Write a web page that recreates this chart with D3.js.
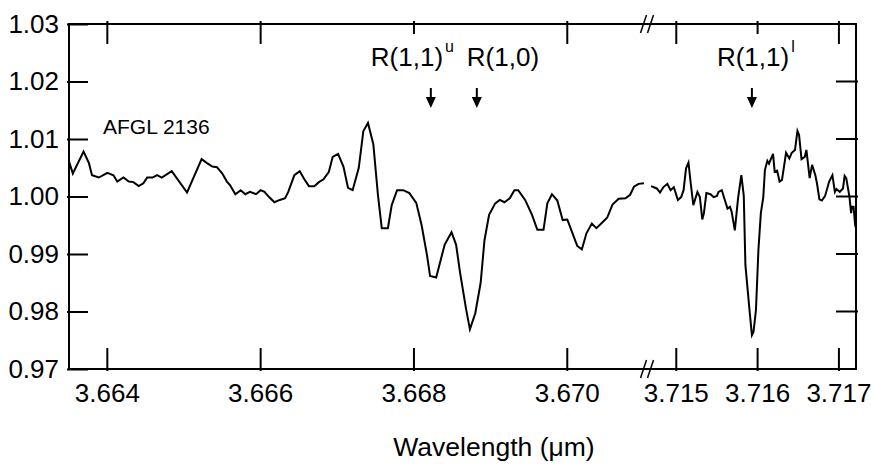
<!DOCTYPE html>
<html>
<head>
<meta charset="utf-8">
<script src="https://cdn.jsdelivr.net/npm/d3@7"></script>
<style>
    body { margin: 0; background: #fff; }
    svg text { font-family: "Liberation Sans", Arial, sans-serif; fill: #000; }
</style>
</head>
<body>
<svg id="chart" width="874" height="467"></svg>
<script>
// left part of the spectrum (3.6635 - 3.6710 um)
const leftWave = [3.66350, 3.66355, 3.66369, 3.66376, 3.66380, 3.66389, 3.66400, 3.66408, 3.66413, 3.66421,
    3.66428, 3.66434, 3.66441, 3.66447, 3.66452, 3.66459, 3.66465, 3.66471, 3.66484, 3.66504,
    3.66523, 3.66530, 3.66537, 3.66543, 3.66550, 3.66556, 3.66560, 3.66567, 3.66574, 3.66580,
    3.66586, 3.66594, 3.66600, 3.66605, 3.66611, 3.66618, 3.66625, 3.66632, 3.66636, 3.66644,
    3.66651, 3.66657, 3.66663, 3.66670, 3.66676, 3.66682, 3.66689, 3.66694, 3.66701, 3.66708,
    3.66714, 3.66720, 3.66728, 3.66734, 3.66740, 3.66747, 3.66753, 3.66758, 3.66766, 3.66771,
    3.66778, 3.66786, 3.66794, 3.66803, 3.66810, 3.66817, 3.66821, 3.66829, 3.66840, 3.66849,
    3.66855, 3.66860, 3.66868, 3.66873, 3.66880, 3.66887, 3.66892, 3.66898, 3.66906, 3.66912,
    3.66918, 3.66925, 3.66931, 3.66936, 3.66945, 3.66954, 3.66961, 3.66969, 3.66974, 3.66980,
    3.66987, 3.66994, 3.67000, 3.67006, 3.67013, 3.67019, 3.67025, 3.67032, 3.67038, 3.67045,
    3.67052, 3.67059, 3.67067, 3.67076, 3.67082, 3.67087, 3.67093, 3.67100];
const leftFlux = [1.0061, 1.0040, 1.0078, 1.0058, 1.0037, 1.0033, 1.0041, 1.0037, 1.0026, 1.0033,
    1.0026, 1.0025, 1.0018, 1.0023, 1.0033, 1.0033, 1.0037, 1.0033, 1.0044, 1.0007,
    1.0065, 1.0058, 1.0052, 1.0051, 1.0040, 1.0026, 1.0020, 1.0004, 1.0011, 1.0004,
    1.0008, 1.0004, 1.0011, 1.0008, 0.9999, 0.9990, 0.9994, 0.9997, 1.0008, 1.0037,
    1.0044, 1.0030, 1.0018, 1.0018, 1.0025, 1.0030, 1.0043, 1.0069, 1.0074, 1.0052,
    1.0015, 1.0011, 1.0050, 1.0114, 1.0128, 1.0091, 1.0003, 0.9945, 0.9945, 0.9985,
    1.0011, 1.0011, 1.0006, 0.9989, 0.9950, 0.9898, 0.9862, 0.9859, 0.9916, 0.9938,
    0.9916, 0.9869, 0.9804, 0.9769, 0.9797, 0.9850, 0.9924, 0.9968, 0.9988, 0.9994,
    0.9990, 0.9997, 1.0011, 1.0011, 0.9994, 0.9968, 0.9942, 0.9942, 0.9988, 1.0004,
    0.9993, 0.9959, 0.9960, 0.9939, 0.9914, 0.9908, 0.9936, 0.9953, 0.9945, 0.9954,
    0.9963, 0.9986, 0.9996, 0.9997, 1.0003, 1.0017, 1.0022, 1.0023];

// right part of the spectrum (3.7146 - 3.7172 um)
const rightWave = [3.71469, 3.71476, 3.71480, 3.71484, 3.71489, 3.71493, 3.71497, 3.71502, 3.71506, 3.71509,
    3.71512, 3.71515, 3.71518, 3.71521, 3.71526, 3.71529, 3.71532, 3.71534, 3.71537, 3.71542,
    3.71546, 3.71550, 3.71552, 3.71556, 3.71559, 3.71563, 3.71566, 3.71568, 3.71572, 3.71576,
    3.71580, 3.71583, 3.71585, 3.71588, 3.71590, 3.71593, 3.71595, 3.71598, 3.71601, 3.71604,
    3.71607, 3.71609, 3.71612, 3.71614, 3.71619, 3.71621, 3.71624, 3.71627, 3.71630, 3.71635,
    3.71639, 3.71642, 3.71646, 3.71649, 3.71651, 3.71654, 3.71658, 3.71660, 3.71664, 3.71667,
    3.71671, 3.71673, 3.71676, 3.71679, 3.71683, 3.71688, 3.71692, 3.71695, 3.71697, 3.71701,
    3.71705, 3.71707, 3.71709, 3.71713, 3.71715, 3.71716, 3.71718, 3.71720, 3.71721];
const rightFlux = [1.0018, 1.0014, 1.0007, 1.0016, 1.0022, 1.0011, 1.0016, 0.9994, 0.9999, 1.0011,
    1.0049, 1.0059, 1.0020, 0.9985, 1.0008, 0.9999, 0.9960, 0.9971, 1.0006, 1.0004,
    0.9999, 1.0001, 1.0008, 1.0011, 0.9997, 0.9979, 0.9982, 0.9974, 0.9941, 0.9997,
    1.0037, 1.0001, 0.9881, 0.9834, 0.9803, 0.9759, 0.9765, 0.9803, 0.9907, 0.9971,
    0.9999, 1.0046, 1.0062, 1.0057, 1.0074, 1.0043, 1.0045, 1.0026, 1.0029, 1.0076,
    1.0066, 1.0076, 1.0081, 1.0114, 1.0107, 1.0065, 1.0069, 1.0081, 1.0032, 1.0055,
    1.0037, 1.0023, 0.9995, 0.9993, 1.0001, 1.0026, 1.0037, 1.0008, 1.0013, 1.0008,
    1.0014, 1.0036, 1.0032, 0.9999, 0.9971, 0.9982, 0.9982, 0.9950, 0.9945];

const yTicks = [0.97, 0.98, 0.99, 1.00, 1.01, 1.02, 1.03];
const xTicksLeft = [3.664, 3.666, 3.668, 3.670];
const xTicksRight = [3.715, 3.716, 3.717];

// line identifications
const lineNames = ["R(1,1)", "R(1,0)", "R(1,1)"];
const lineSup = ["u", "", "l"];
const lineWave = [3.66822, 3.66882, 3.71593];
const linePart = ["left", "left", "right"];

const width = 874, height = 467;
const plotLeft = 69, plotRight = 856, plotTop = 24, plotBottom = 369, breakX = 647;

const xLeft = d3.scaleLinear().domain([3.6635, 3.67104]).range([plotLeft, breakX]);
const xRight = d3.scaleLinear().domain([3.71464, 3.71721]).range([breakX, plotRight]);
const y = d3.scaleLinear().domain([0.97, 1.03]).range([plotBottom, plotTop]);
const xOf = (part) => part == "left" ? xLeft : xRight;

const svg = d3.select('#chart');

// spectrum
const makeLine = (sx) => d3.line().x(d => sx(d[0])).y(d => y(d[1]));
svg.append('path')
    .datum(d3.zip(leftWave, leftFlux))
    .attr('fill', 'none').attr('stroke', '#000').attr('stroke-width', 2)
    .attr('d', makeLine(xLeft));
svg.append('path')
    .datum(d3.zip(rightWave, rightFlux))
    .attr('fill', 'none').attr('stroke', '#000').attr('stroke-width', 2)
    .attr('d', makeLine(xRight));

// y axis labels + left ticks
svg.append('g')
    .attr('transform', `translate(${plotLeft},0)`)
    .call(d3.axisLeft(y).tickValues(yTicks).tickFormat(d3.format('.2f')).tickSize(-19).tickPadding(10))
    .call(g => {
        g.select('.domain').remove();
        g.attr('font-family', null).attr('font-size', null);
        g.selectAll('.tick line').attr('stroke-width', 2).attr('x1', -2);
        g.selectAll('.tick text').style('font-size', '26px');
    });

// right ticks
svg.append('g').selectAll('line')
    .data(yTicks.slice(1, -1))
    .join('line')
        .attr('x1', plotRight - 20).attr('x2', plotRight + 2)
        .attr('y1', d => y(d)).attr('y2', d => y(d))
        .attr('stroke', '#000').attr('stroke-width', 2);

// top and bottom ticks, bottom labels
const xTickData = xTicksLeft.map(d => ({v: d, sx: xLeft}))
    .concat(xTicksRight.map(d => ({v: d, sx: xRight})));

svg.append('g').selectAll('line')
    .data(xTickData)
    .join('line')
        .attr('x1', d => d.sx(d.v)).attr('x2', d => d.sx(d.v))
        .attr('y1', plotTop - 3).attr('y2', plotTop + 20)
        .attr('stroke', '#000').attr('stroke-width', 2);

svg.append('g').selectAll('line')
    .data(xTickData)
    .join('line')
        .attr('x1', d => d.sx(d.v)).attr('x2', d => d.sx(d.v))
        .attr('y1', plotBottom - 21).attr('y2', plotBottom + 2)
        .attr('stroke', '#000').attr('stroke-width', 2);

svg.append('g').selectAll('text')
    .data(xTickData)
    .join('text')
        .attr('x', d => d.sx(d.v)).attr('y', plotBottom + 33)
        .attr('text-anchor', 'middle')
        .style('font-size', '26px')
        .text(d => d3.format('.3f')(d.v));

// frame
svg.append('rect')
    .attr('x', plotLeft).attr('y', plotTop)
    .attr('width', plotRight - plotLeft).attr('height', plotBottom - plotTop)
    .attr('fill', 'none').attr('stroke', '#000').attr('stroke-width', 2);

// axis break marks
[plotTop, plotBottom].forEach(yy => {
    [-3.5, 3.5].forEach(off => {
        svg.append('line')
            .attr('x1', breakX + off - 3).attr('y1', yy + 9)
            .attr('x2', breakX + off + 3).attr('y2', yy - 9)
            .attr('stroke', '#000').attr('stroke-width', 1.5);
    });
});

// line labels with arrows
const labelOffset = [-60, -10, -35];
lineNames.forEach((name, i) => {
    const x = xOf(linePart[i])(lineWave[i]);
    const g = svg.append('g');
    const bg = g.append('rect').attr('fill', '#fff');
    const t = g.append('text')
        .attr('x', x + labelOffset[i]).attr('y', 66)
        .style('font-size', '26px')
        .text(name);
    if (lineSup[i]) {
        t.append('tspan').attr('dy', -14).attr('dx', 2).style('font-size', '16px').text(lineSup[i]);
    }
    const bb = t.node().getBBox();
    bg.attr('x', bb.x - 2).attr('y', 34).attr('width', bb.width + 4).attr('height', 40);

    svg.append('line')
        .attr('x1', x).attr('x2', x).attr('y1', 88).attr('y2', 100)
        .attr('stroke', '#000').attr('stroke-width', 2);
    svg.append('path')
        .attr('d', `M${x - 5},97 L${x + 5},97 L${x},108 Z`)
        .attr('fill', '#000');
});

svg.append('text')
    .attr('x', 103).attr('y', 134)
    .style('font-size', '21px')
    .text('AFGL 2136');

svg.append('text')
    .attr('x', 494).attr('y', 456)
    .attr('text-anchor', 'middle')
    .style('font-size', '26.5px')
    .text('Wavelength (μm)');
</script>
</body>
</html>
